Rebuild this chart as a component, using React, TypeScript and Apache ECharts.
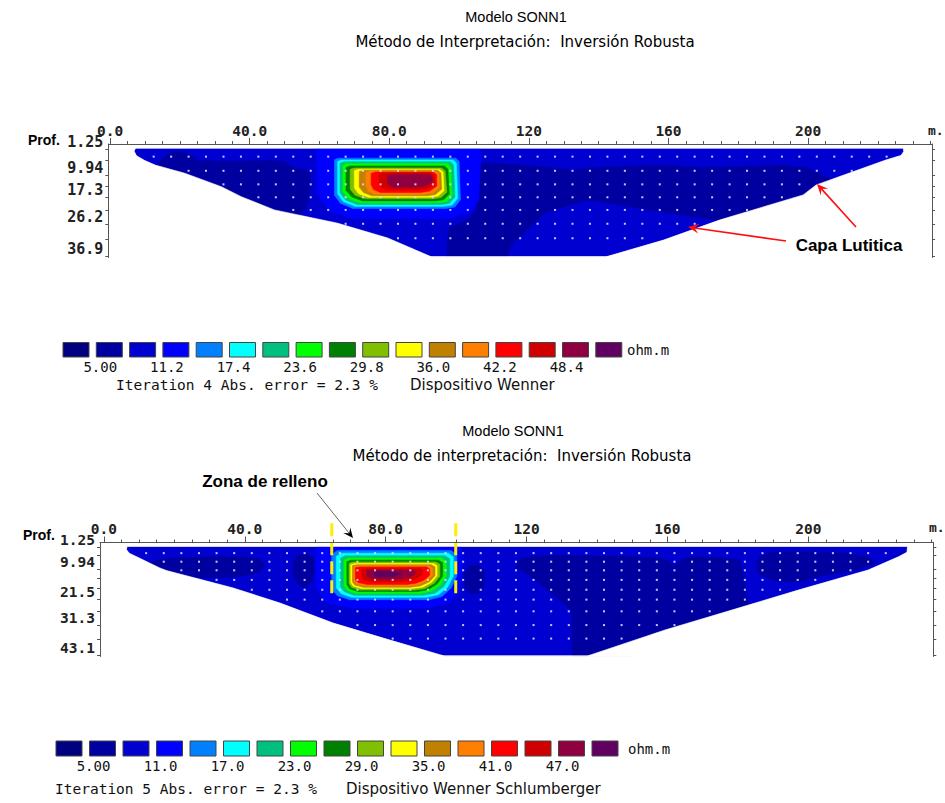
import React, { useEffect, useRef } from 'react';
import * as echarts from 'echarts';

// ---------- colour scale (legend boxes, lowest to highest resistivity) ----------
const PALETTE = ['#000080', '#0000a0', '#0000d0', '#0000ff', '#0080ff', '#00ffff', '#00c080', '#00ff00', '#008000', '#80c000', '#ffff00', '#c08000', '#ff8000', '#ff0000', '#d00000', '#900040', '#600060'];
const BULK = 2;
const DARK = 1;
const HALO = 3;

// ---------- axes ----------
const X_LABELS = [0, 40, 80, 120, 160, 200];
const X_MINOR_TICKS: number[] = [];
for (let v = 0; v <= 235; v += 5) X_MINOR_TICKS.push(v);

const TOP_X_RANGE = [-0.5, 235.5];
const TOP_D_RANGE = [-0.5, 37.2];
const TOP_DEPTH_LABELS = [1.25, 9.94, 17.3, 26.2, 36.9];
const TOP_LAYER_TICKS = [1.25, 5.0, 9.94, 13.6, 17.3, 21.5, 26.2, 31.0, 36.9];

const BOT_X_RANGE = [-1.1, 235.5];
const BOT_D_RANGE = [-0.5, 43.4];
const BOT_DEPTH_LABELS = [1.25, 9.94, 21.5, 31.3, 43.1];
const BOT_LAYER_TICKS = [1.25, 4.5, 9.94, 13.3, 17.2, 21.5, 26.1, 31.3, 36.7, 43.1];

// ---------- legends ----------
const TOP_LEGEND_LABELS = ['5.00', '11.2', '17.4', '23.6', '29.8', '36.0', '42.2', '48.4'];
const BOT_LEGEND_LABELS = ['5.00', '11.0', '17.0', '23.0', '29.0', '35.0', '41.0', '47.0'];

type Pt = [number, number];

// ---------- upper model (Wenner) : [x (m), depth (m)] ----------
const TOP_OUTLINE: Pt[] = [[7.3, 0.9], [6.9, 1.9], [7.6, 3.4], [9.8, 4.9], [12.9, 6.5], [21.4, 9.2], [31.9, 13.7], [37.6, 17.0], [47.1, 21.4], [65.2, 25.8], [79.5, 30.7], [91.9, 36.9], [142.3, 36.9], [158.6, 31.4], [174.8, 24.7], [198.6, 16.4], [202.3, 13.1], [222.3, 4.8], [226.6, 3.3], [227.4, 2.0], [227.3, 0.9]];
const TOP_DARK_LEFT: Pt[] = [[12.5, 7.0], [15, 4.6], [17, 2.4], [21, 2.0], [23.5, 3.4], [25, 5.0], [35, 5.3], [45, 5.0], [50, 5.4], [53, 7.6], [57.2, 8.4], [57.5, 12], [57, 17], [56, 21], [53, 24], [40, 20], [25, 12], [14, 8.5]];
const TOP_DARK_RIGHT: Pt[] = [[105.5, 5.8], [115, 6.2], [125, 7.2], [132, 8.2], [140, 7.3], [150, 6.8], [160, 6.6], [170, 7.4], [180, 7.0], [192, 6.5], [200, 7.5], [207, 11.5], [203, 15], [190, 20], [174.8, 24.7], [172.8, 24.7], [160, 22.3], [149, 20.3], [136.6, 18.1], [125, 22], [120.4, 26.9], [115, 33], [113.8, 36.9], [96.5, 36.9], [97, 27.5], [103, 24.5], [105, 21]];
const TOP_HALO: Pt[] = [[59.2, 0.5], [106, 0.5], [106.2, 5], [105.6, 18], [103.5, 22], [97, 24.3], [70, 24.3], [63, 22], [59.5, 16]];
const TOP_ANOMALY: Pt[][] = [
  [[64.3, 4.7], [65.4, 4.2], [99, 4.2], [100, 5.2], [100.4, 18], [98.8, 20.4], [96.2, 20.9], [69.6, 20.9], [66, 19.2], [64.3, 16.5]],
  [[65.2, 5.3], [66.2, 4.8], [98.3, 4.8], [99.2, 5.8], [99.6, 17.6], [98, 19.8], [95.5, 20.2], [70.2, 20.2], [66.8, 18.6], [65.2, 16.1]],
  [[65.9, 5.9], [67, 5.4], [97.5, 5.4], [98.4, 6.4], [98.8, 17.1], [97.2, 19.2], [94.8, 19.6], [70.8, 19.6], [67.5, 18.1], [65.9, 15.7]],
  [[66.7, 6.6], [67.8, 6.1], [96.6, 6.1], [97.6, 7.1], [98, 16.6], [96.4, 18.6], [94, 19], [71.5, 19], [68.3, 17.6], [66.7, 15.3]],
  [[67.6, 7.3], [68.8, 6.8], [95.8, 6.8], [96.8, 7.8], [97.2, 16.1], [95.6, 18], [93.3, 18.4], [72.3, 18.4], [69.2, 17], [67.6, 14.9]],
  [[68.8, 7.9], [70, 7.5], [95, 7.5], [96, 8.4], [96.5, 15.5], [94.8, 17.3], [92.5, 17.7], [73.2, 17.7], [70.2, 16.5], [68.8, 14.5]],
  [[70, 8.3], [71.2, 7.9], [94.4, 7.9], [95.4, 8.8], [95.7, 15], [94, 16.8], [91.8, 17.2], [74, 17.2], [71.2, 16], [70, 14.1]],
  [[71.4, 8.7], [72.6, 8.2], [93.8, 8.2], [94.8, 9.1], [95, 14.5], [93.2, 16.3], [91, 16.7], [75, 16.7], [72.6, 15.6], [71.4, 13.8]],
  [[73.3, 9.0], [74.5, 8.5], [93.2, 8.5], [94.2, 9.4], [94.3, 14], [92.4, 15.8], [90, 16.2], [76, 16.2], [74, 15.1], [73.3, 13.4]],
  [[74.8, 9.3], [76, 8.8], [92.6, 8.8], [93.6, 9.7], [93.6, 13.5], [91.6, 15.1], [89, 15.6], [77.5, 15.6], [75.5, 14.6], [74.8, 13]],
  [[77.1, 9.6], [78.5, 9.1], [92, 9.1], [93, 10], [92.9, 12.9], [90.8, 14.4], [88, 14.7], [79.5, 14.7], [77.7, 13.9], [77.1, 12.6]],
  [[79.5, 10.0], [80.8, 9.6], [91.3, 9.6], [92.3, 10.4], [92.2, 12.4], [90, 13.6], [86, 13.9], [81.5, 13.9], [80, 13.3], [79.5, 12.2]],
];
const TOP_DOT_ROWS = [[3.7, 12.5, 222.5], [8.4, 22.5, 212.5], [12.9, 32.5, 197.5], [17.2, 42.5, 192.5], [21.4, 52.5, 182.5], [26.0, 67.5, 167.5], [30.8, 82.5, 152.5]];

// ---------- lower model (Wenner-Schlumberger) ----------
const BOT_OUTLINE: Pt[] = [[6.6, 1.0], [6.4, 2.2], [7.2, 3.6], [15.9, 9.3], [17.8, 10.3], [36.7, 17.0], [50, 22.8], [65.1, 30.5], [79.3, 36.3], [96.4, 43.1], [137.5, 43.1], [159.3, 33.2], [183, 23.6], [197.2, 17.8], [217, 10.1], [225.6, 5.0], [228, 3.3], [228.2, 1.0]];
const BOT_DARK_LEFT: Pt[] = [[12, 7.5], [16, 6.0], [22, 5.2], [32, 4.9], [40, 5.0], [44, 5.8], [45.5, 7.5], [45, 10], [42, 11.8], [35, 13], [25, 13], [15, 10.5]];
const BOT_DARK_SPOT: Pt[] = [[53.8, 7], [55, 4.5], [57.5, 3.8], [59.5, 5.5], [59.8, 10], [59, 14.5], [57, 17], [55, 15.5], [53.8, 12]];
const BOT_DARK_NEAR: Pt[] = [[102.3, 11], [104, 8.5], [106.5, 8.2], [108, 11], [108.2, 15], [107, 18.5], [104.5, 19.5], [102.5, 17]];
const BOT_DARK_RIGHT: Pt[] = [[117, 9], [118.6, 5.6], [124, 4.6], [135, 4.6], [148, 4.8], [157, 5.3], [160.5, 6.5], [161.8, 8.8], [163.8, 6], [167, 4.9], [175, 5.2], [180.5, 6.3], [181.5, 12], [182.3, 20], [183.5, 24], [165, 35], [150, 43.1], [133, 43.1], [132.8, 25.5], [128, 20], [121.4, 12.7]];
const BOT_DARK_TIP: Pt[] = [[185, 8], [186.5, 4.5], [190, 3.2], [200, 3.0], [210, 3.6], [217, 5], [219, 7.5], [214, 10], [203, 12.5], [198, 14.6], [190, 14.2], [186, 11.5]];
const BOT_HALO: Pt[] = [[60.3, 0.5], [101.5, 0.5], [101.8, 10], [101, 18], [98, 22.5], [92, 24.8], [70, 24.8], [63, 22.3], [60.3, 17]];
const BOT_ANOMALY: Pt[][] = [
  [[64.7, 4.2], [66.3, 2.6], [98.6, 2.6], [100.2, 4.2], [100.2, 12.5], [98.6, 17], [96, 20.3], [92.5, 21.5], [69.8, 21.5], [66.3, 20], [64.7, 17.5]],
  [[66, 4.8], [67.4, 3.6], [97.8, 3.6], [99.2, 5], [99.2, 12.5], [97.6, 16.7], [95, 19.6], [91.6, 20.6], [70.4, 20.6], [67.4, 19.2], [66, 17]],
  [[67.2, 5.5], [68.5, 4.6], [96.8, 4.6], [98.2, 5.8], [98.2, 12.5], [96.6, 16.3], [94, 19], [90.7, 19.8], [71, 19.8], [68.3, 18.5], [67.2, 16.5]],
  [[68.2, 6.2], [69.4, 5.5], [95.9, 5.5], [97.2, 6.6], [97.2, 12.5], [95.6, 15.9], [93, 18.3], [89.8, 19.1], [71.6, 19.1], [69.1, 17.9], [68.2, 16.1]],
  [[69, 6.9], [70.2, 6.3], [95, 6.3], [96.2, 7.3], [96.2, 12.5], [94.6, 15.5], [92, 17.7], [89, 18.4], [72.2, 18.4], [69.8, 17.3], [69, 15.7]],
  [[69.6, 7.5], [70.8, 7.0], [94.3, 7.0], [95.4, 7.9], [95.4, 12.5], [93.8, 15.2], [91.2, 17.2], [88.3, 17.8], [72.7, 17.8], [70.3, 16.8], [69.6, 15.3]],
  [[70.1, 8.0], [71.3, 7.6], [93.6, 7.6], [94.6, 8.4], [94.6, 12.4], [93, 14.9], [90.5, 16.7], [87.6, 17.2], [73.2, 17.2], [70.8, 16.3], [70.1, 15]],
  [[70.6, 8.4], [71.8, 8.1], [93, 8.1], [94, 8.9], [94, 12.3], [92.4, 14.6], [89.9, 16.2], [87, 16.7], [73.7, 16.7], [71.3, 15.9], [70.6, 14.7]],
  [[71, 8.8], [72.2, 8.5], [92.3, 8.5], [93.3, 9.3], [93.3, 12.2], [91.7, 14.3], [89.3, 15.7], [86.4, 16.2], [74.2, 16.2], [71.7, 15.4], [71, 14.3]],
  [[71.4, 9.2], [72.6, 8.9], [91.6, 8.9], [92.5, 9.7], [92.5, 12.1], [90.9, 14], [88.6, 15.2], [85.8, 15.7], [74.8, 15.7], [72.2, 14.9], [71.4, 13.9]],
  [[73.2, 9.9], [74.4, 9.6], [89.8, 9.6], [90.5, 10.3], [90.4, 11.9], [88.8, 13.3], [86.6, 14.2], [84, 14.6], [76.5, 14.6], [74, 13.9], [73.2, 12.9]],
  [[74.6, 10.4], [75.8, 10.1], [87.8, 10.1], [88.5, 10.8], [88.3, 11.8], [86.8, 12.8], [84.5, 13.5], [82, 13.7], [77.5, 13.7], [75.3, 13], [74.6, 12.2]],
  [[76.5, 11.0], [77.8, 10.6], [81.5, 10.7], [84.5, 11.5], [82.5, 12.5], [79, 12.9], [77, 12.4]],
];
const BOT_DOT_ROWS = [[3.6, 12, 222], [6.9, 17, 217], [10.2, 22, 212], [13.9, 32, 202], [17.7, 42, 192], [21.5, 52, 182], [26.0, 62, 172], [31.3, 72, 162], [36.5, 82, 147]];
const FILL_ZONE_X = [64.7, 99.9];
const FILL_ZONE_D = [-7.9, 21.4];

// ---------- fonts ----------
const MONO = "'DejaVu Sans Mono', monospace";
const SANS = "'Liberation Sans', Arial, sans-serif";
const DEJA = "'DejaVu Sans', sans-serif";
const AXIS_COLOR = '#555';

type Item = { fill: string; pts: Pt[] };

function buildItems(outline: Pt[], layers: [number, Pt[]][], xr: number[], yr: number[]): Item[] {
  const items: Item[] = [{ fill: PALETTE[BULK], pts: outline }];
  layers.forEach(([lvl, pts]) => items.push({ fill: PALETTE[lvl], pts }));
  // white masks around the trapezoidal section
  const n = outline.length;
  const top = outline[0][1];
  let bl = 0;
  let maxD = -Infinity;
  outline.forEach((p, i) => { if (p[1] > maxD + 1e-9) { maxD = p[1]; bl = i; } });
  const br = bl + 1;
  const W = '#ffffff';
  items.push({ fill: W, pts: [[xr[0], yr[0]], [xr[1], yr[0]], [xr[1], top], [xr[0], top]] });
  items.push({ fill: W, pts: [[xr[0], top], ...outline.slice(0, bl + 1), [outline[bl][0], yr[1]], [xr[0], yr[1]]] });
  const right = outline.slice(br).reverse();
  items.push({ fill: W, pts: [[xr[1], outline[n - 1][1]], ...right, [outline[br][0], yr[1]], [xr[1], yr[1]]] });
  items.push({ fill: W, pts: [[xr[0], maxD], [xr[1], maxD], [xr[1], yr[1]], [xr[0], yr[1]]] });
  return items;
}

function regionSeries(items: Item[], idx: number) {
  return {
    type: 'custom',
    xAxisIndex: idx * 2,
    yAxisIndex: idx * 2,
    silent: true,
    clip: true,
    z: 2,
    encode: { x: 0, y: 1 },
    data: items.map((it, i) => [it.pts[0][0], it.pts[0][1], i]),
    renderItem: (params: any, api: any) => {
      const it = items[params.dataIndex];
      return {
        type: 'polygon',
        shape: { points: it.pts.map((p) => api.coord(p)) },
        style: { fill: it.fill, stroke: it.fill, lineWidth: 0.6 },
      };
    },
  };
}

function dotSeries(rows: number[][], idx: number) {
  const data: number[][] = [];
  rows.forEach(([d, x0, x1]) => {
    for (let x = x0; x <= x1 + 1e-6; x += 5) data.push([x, d]);
  });
  return {
    type: 'scatter',
    xAxisIndex: idx * 2,
    yAxisIndex: idx * 2,
    silent: true,
    z: 5,
    symbol: 'rect',
    symbolSize: [2, 2],
    itemStyle: { color: '#dcdcff', opacity: 0.9 },
    data,
  };
}

const fmtX = (v: number) => (v < 100 ? v.toFixed(1) : String(v));

function axesFor(gi: number, xr: number[], yr: number[], depthLabels: number[], layerTicks: number[], depthSize: number) {
  const line = { show: true, onZero: false, lineStyle: { color: AXIS_COLOR, width: 1 } };
  const xMain = {
    gridIndex: gi, type: 'value', position: 'top', min: xr[0], max: xr[1], z: 8,
    axisLine: line,
    axisTick: { show: true, inside: false, length: 3, customValues: X_MINOR_TICKS, lineStyle: { color: AXIS_COLOR } },
    axisLabel: { show: true, customValues: X_LABELS, formatter: fmtX, fontFamily: MONO, fontSize: 14.5, fontWeight: 'bold', color: '#222', margin: 6 },
    splitLine: { show: false },
  };
  const xMajor = {
    gridIndex: gi, type: 'value', position: 'top', min: xr[0], max: xr[1], z: 8,
    axisLine: { show: false, onZero: false },
    axisTick: { show: true, inside: false, length: 6, customValues: X_LABELS, lineStyle: { color: AXIS_COLOR } },
    axisLabel: { show: false },
    splitLine: { show: false },
  };
  const yLeft = {
    gridIndex: gi, type: 'value', position: 'left', inverse: true, min: yr[0], max: yr[1], z: 8,
    axisLine: line,
    axisTick: { show: true, inside: false, length: 3, customValues: layerTicks, lineStyle: { color: AXIS_COLOR } },
    axisLabel: { show: true, customValues: depthLabels, formatter: (v: number) => String(v), fontFamily: MONO, fontSize: depthSize, fontWeight: 'bold', color: '#222', margin: 5, verticalAlign: 'bottom' },
    splitLine: { show: false },
  };
  const yRight = {
    gridIndex: gi, type: 'value', position: 'right', inverse: true, min: yr[0], max: yr[1], z: 8,
    axisLine: line,
    axisTick: { show: true, inside: false, length: 3, customValues: layerTicks, lineStyle: { color: AXIS_COLOR } },
    axisLabel: { show: false },
    splitLine: { show: false },
  };
  return { x: [xMain, xMajor], y: [yLeft, yRight] };
}

function txt(text: string, x: number, y: number, o: any = {}) {
  const align = o.align || 'left';
  return {
    type: 'text', x, y, z: 100,
    style: {
      text, fontFamily: o.family || SANS, fontSize: o.size || 14, fontWeight: o.weight || 'normal',
      fill: o.color || '#000', align, textAlign: align, verticalAlign: 'middle', textVerticalAlign: 'middle',
    },
  };
}

function arrow(x1: number, y1: number, x2: number, y2: number, color: string, width: number, head: number, headColor?: string) {
  const a = Math.atan2(y2 - y1, x2 - x1);
  const c = Math.cos(a), s = Math.sin(a);
  const hx = x2 - head * c, hy = y2 - head * s;
  const nx = x2 - head * 0.6 * c, ny = y2 - head * 0.6 * s;
  const w = head * 0.45;
  return [
    { type: 'line', z: 100, shape: { x1, y1, x2: nx, y2: ny }, style: { stroke: color, lineWidth: width } },
    {
      type: 'polygon', z: 100,
      shape: { points: [[x2, y2], [hx - s * w, hy + c * w], [nx, ny], [hx + s * w, hy - c * w]] },
      style: { fill: headColor || color },
    },
  ];
}

function legendGraphics(x0: number, pitch: number, y: number, h: number, labels: string[], labelY: number, ohmX: number) {
  const g: any[] = [];
  PALETTE.forEach((c, i) => {
    g.push({ type: 'rect', z: 100, shape: { x: x0 + i * pitch, y, width: 26, height: h }, style: { fill: c, stroke: '#444', lineWidth: 1 } });
  });
  labels.forEach((t, k) => {
    g.push(txt(t, x0 + (2 * k + 1) * pitch + 4, labelY, { family: MONO, size: 14, align: 'center', color: '#111' }));
  });
  g.push(txt('ohm.m', ohmX, y + h / 2, { family: MONO, size: 14, color: '#111' }));
  return g;
}

export default function App() {
  const ref = useRef<HTMLDivElement>(null);
  useEffect(() => {
    if (!ref.current) return;
    const chart = echarts.init(ref.current, undefined, { renderer: 'svg' });

    const topItems = buildItems(TOP_OUTLINE, [
      [DARK, TOP_DARK_LEFT], [DARK, TOP_DARK_RIGHT], [HALO, TOP_HALO],
      ...TOP_ANOMALY.map((p, i) => [4 + i, p] as [number, Pt[]]),
    ], TOP_X_RANGE, TOP_D_RANGE);
    const botItems = buildItems(BOT_OUTLINE, [
      [DARK, BOT_DARK_LEFT], [DARK, BOT_DARK_SPOT], [DARK, BOT_DARK_NEAR], [DARK, BOT_DARK_RIGHT], [DARK, BOT_DARK_TIP], [HALO, BOT_HALO],
      ...BOT_ANOMALY.map((p, i) => [4 + i, p] as [number, Pt[]]),
    ], BOT_X_RANGE, BOT_D_RANGE);

    const a0 = axesFor(0, TOP_X_RANGE, TOP_D_RANGE, TOP_DEPTH_LABELS, TOP_LAYER_TICKS, 15);
    const a1 = axesFor(1, BOT_X_RANGE, BOT_D_RANGE, BOT_DEPTH_LABELS, BOT_LAYER_TICKS, 14.5);

    const graphics: any[] = [
      txt('Modelo SONN1', 516, 17, { size: 14.5, align: 'center' }),
      txt('Método de Interpretación:  Inversión Robusta', 525, 42, { family: DEJA, size: 15, align: 'center' }),
      txt('Prof.', 28, 140, { size: 14, weight: 'bold' }),
      txt('m.', 928, 130, { family: MONO, size: 13, weight: 'bold', color: '#222' }),
      ...legendGraphics(63, 33.3, 342.5, 14.5, TOP_LEGEND_LABELS, 367, 627),
      txt('Iteration 4 Abs. error = 2.3 %', 116, 385, { family: MONO, size: 14.5, color: '#111' }),
      txt('Dispositivo Wenner', 410, 385, { family: DEJA, size: 15, color: '#111' }),
      txt('Capa Lutitica', 849, 245, { size: 17, weight: 'bold', align: 'center' }),
      ...arrow(786, 241, 688, 227, '#ff1010', 1.6, 11),
      ...arrow(856, 227, 817, 184, '#ff1010', 1.6, 11),

      txt('Modelo SONN1', 513, 431, { size: 14.5, align: 'center' }),
      txt('Método de interpretación:  Inversión Robusta', 522, 456, { family: DEJA, size: 15, align: 'center' }),
      txt('Zona de relleno', 265, 481, { size: 17, weight: 'bold', align: 'center' }),
      ...arrow(317, 493, 353, 538, '#666', 1, 10, '#000'),
      txt('Prof.', 23, 535, { size: 14, weight: 'bold' }),
      txt('m.', 929, 527, { family: MONO, size: 13, weight: 'bold', color: '#222' }),
      ...legendGraphics(56, 33.5, 741, 15, BOT_LEGEND_LABELS, 766, 628),
      txt('Iteration 5 Abs. error = 2.3 %', 55, 789, { family: MONO, size: 14.5, color: '#111' }),
      txt('Dispositivo Wenner Schlumberger', 346, 789, { family: DEJA, size: 15, color: '#111' }),
    ];

    chart.setOption({
      animation: false,
      backgroundColor: '#ffffff',
      grid: [
        { left: 108.3, top: 144, width: 823.7, height: 113.5 },
        { left: 100, top: 542.5, width: 833.3, height: 114 },
      ],
      xAxis: [...a0.x, ...a1.x],
      yAxis: [...a0.y, ...a1.y],
      series: [
        regionSeries(topItems, 0),
        dotSeries(TOP_DOT_ROWS, 0),
        regionSeries(botItems, 1),
        dotSeries(BOT_DOT_ROWS, 1),
        {
          type: 'custom',
          xAxisIndex: 2,
          yAxisIndex: 2,
          silent: true,
          clip: false,
          z: 6,
          encode: { x: 0, y: 1 },
          data: FILL_ZONE_X.map((x) => [x, FILL_ZONE_D[0], FILL_ZONE_D[1]]),
          renderItem: (params: any, api: any) => {
            const x = api.value(0);
            const p0 = api.coord([x, api.value(1)]);
            const p1 = api.coord([x, api.value(2)]);
            return {
              type: 'line',
              shape: { x1: p0[0], y1: p0[1], x2: p1[0], y2: p1[1] },
              style: { stroke: '#ffee00', lineWidth: 3, lineDash: [13, 6] },
            };
          },
        },
      ],
      graphic: graphics,
    });
    return () => chart.dispose();
  }, []);
  return <div ref={ref} style={{ position: 'absolute', left: 0, top: 0, width: 945, height: 803, background: '#fff' }} />;
}
